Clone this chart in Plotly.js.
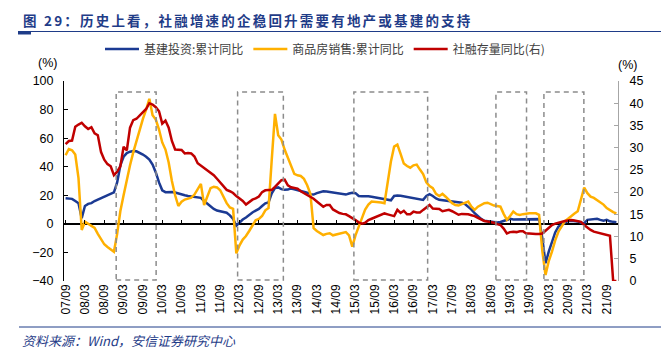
<!DOCTYPE html>
<html><head><meta charset="utf-8">
<script src="https://cdn.plot.ly/plotly-3.0.1.min.js"></script>
<style>html,body{margin:0;padding:0;background:#fff}</style>
</head><body><div id="chart" style="width:671px;height:354px"></div>
<script>
// ---- data ----
const startYear = 2007, startMonth = 9, monthCount = 172;   // 2007/09 .. 2021/12
const months = [];
for (let i = 0; i < monthCount; i++) {
  const t = startYear * 12 + (startMonth - 1) + i;
  const y = Math.floor(t / 12) % 100, m = t % 12 + 1;
  months.push(String(y).padStart(2, '0') + '/' + String(m).padStart(2, '0'));
}
const tickLabels = ['07/09','08/03','08/09','09/03','09/09','10/03','10/09','11/03','11/09','12/03','12/09',
  '13/03','13/09','14/03','14/09','15/03','15/09','16/03','16/09','17/03','17/09','18/03','18/09',
  '19/03','19/09','20/03','20/09','21/03','21/09'];

const seriesNames = ['基建投资:累计同比', '商品房销售:累计同比', '社融存量同比(右)'];

// 基建投资:累计同比 (%)
const infraYoY = [
  17.9, 17.9, 17.5, 16,
  14.5, 4, 12.5, 14, 14.5, 16, 17, 18.5, 19.5, 20.5, 21.2, 22,
  29, 41, 47, 49.5, 50.5, 51, 50.8, 49.8, 48.5, 47, 45, 41.5,
  36, 29, 23.5, 22.2, 22.4, 22.3, 22, 21.2, 20.7, 20, 19.5, 19.2,
  18.8, 18.5, 18.2, 16, 14, 12.5, 10.5, 9.3, 8.8, 8.4, 7.8, 6,
  3.5, -1.3, 1.2, 3, 4.5, 6.5, 8, 9.3, 10.5, 12.5, 14.4, 15,
  21.4, 25, 25.5, 24.3, 23.8, 24, 24.8, 24.2, 23.6, 23.2, 22.5, 21.8,
  20.8, 20.5, 21.5, 22.2, 22.8, 22.6, 22.2, 21.8, 21.3, 21.2, 20.6, 20.5,
  21.2, 21.8, 21.5, 19.5, 19.3, 19.5, 19.3, 19, 18.5, 18.2, 17.8, 17.4,
  16.8, 16.5, 19.5, 19.9, 19.7, 19.3, 18.8, 18.4, 18, 17.6, 17.2, 16.8,
  19.5, 20.8, 19.5, 17.8, 16.8, 16.5, 16.2, 16, 15.7, 15.5, 15.3, 14.8,
  13.8, 12.2, 10, 7.5, 5.5, 3.5, 2.2, 2, 1.5, 1.1, 1, 1.3,
  2, 2.8, 3.5, 3, 3, 3.5, 3.4, 3.4, 3.5, 3.5, 3.5, 3.3,
  -10, -27.6, -19.5, -12, -6, -2, -0.5, 0.5, 2, 2.2, 2, 1.7,
  0.8, 0.5, 2.8, 3, 3.2, 3.5, 2.8, 2.2, 2.8, 1.8, 1.4, 1.1
];

// 商品房销售:累计同比 (%)
const salesYoY = [
  48, 52.4, 51.5, 48.5,
  32, -4.3, 1.5, 0, -1, -2.8, -7, -11, -14.3, -16.2, -18, -19.5,
  -7, 9, 20, 31, 41, 50, 58, 66, 73.5, 80, 87.5, 76,
  73, 66, 57, 52, 43, 30, 20, 12.5, 15.5, 17, 17.5, 18.3,
  20.5, 24.5, 28, 13.2, 19.5, 25, 26, 25.5, 23.5, 19, 14.5, 11.5,
  10.5, -20.6, -15, -11, -8.5, -5, -1, 2.5, 3.5, 5.5, 9.5, 11,
  45, 77, 62, 59, 52, 46, 40, 35, 34, 33.5, 31.5, 27,
  21, -3, -5, -6.5, -7.8, -7, -6.6, -8, -7.5, -7.2, -6.6, -5.8,
  -8, -16, -8, -2.5, 4, 10, 13.5, 15.6, 15.5, 15.5, 15, 14.4,
  29, 43.6, 54.1, 55.5, 49, 42.2, 40.5, 39.3, 41, 41.5, 38, 34.8,
  29, 26.5, 25, 21, 19.5, 21, 19, 16.5, 14.5, 13.2, 12.8, 13.8,
  14.8, 15.6, 12, 9.8, 12, 13.5, 14.5, 14.8, 13.5, 12.8, 12.5, 12,
  7, 2.8, 5.5, 8.6, 6.8, 6.3, 6.8, 7.2, 7.4, 7.4, 7.4, 6.3,
  -19, -35.8, -26, -19.5, -11.5, -5.5, -2, 1.8, 3.6, 5.6, 7.2, 8.8,
  17, 25.4, 21.5, 19, 18.2, 16.5, 15, 13.5, 11, 9.5, 8.2, 7.3
];

// 社融存量同比 (%, right axis)
const tsfYoY = [
  30.8, 31.5, 31.6, 34.7,
  35.2, 35.6, 34.8, 34.2, 34.6, 33.2, 32.8, 29, 27.3, 26.3, 25.8, 23.8,
  24.6, 25.8, 30.2, 29.4, 34.5, 36.2, 36.5, 37.2, 37.9, 38.7, 40, 39.7,
  39.1, 38.2, 35.4, 36.1, 34.5, 31.5, 29.6, 29.5, 29.5, 28.7, 28.8, 28.7,
  28, 26.5, 26, 25.5, 25, 24.3, 23.8, 23, 22.2, 21.2, 20.5, 20.2,
  19.8, 19.1, 18.6, 18, 17.2, 17.8, 18.3, 18.6, 19, 20, 20.4, 20.5,
  20.5, 21.2, 22, 22.7, 22.8, 21.5, 21.1, 20.9, 20.8, 20.2, 19.8, 19.4,
  19, 18.5, 17.9, 17.3, 16.7, 17.1, 17.1, 16.1, 15.7, 15.3, 15.1, 15,
  14.6, 14.2, 13.7, 13.2, 12.9, 13.1, 13.7, 14, 14.3, 14.7, 15, 15.2,
  15, 14.8, 14.6, 16, 15.3, 15.8, 15, 15, 15.6, 15.4, 15.4, 16,
  16.5, 17.1, 16.3, 16.3, 16.2, 15.7, 15.8, 16, 15.7, 15.2, 14.9, 15.1,
  15.1, 15, 14.8, 14.6, 14.2, 13.9, 13.5, 13.4, 13.3, 13.1, 12.8, 12.6,
  11.8, 10.7, 11, 11.1, 11, 11.2, 11.2, 10.7, 10.7, 10.6, 10.6, 10.6,
  10.7, 11.3, 12, 12.6, 12.9, 13.1, 13.4, 13.5, 13.6, 13.7, 13.6, 13.4,
  13.3, 12.6, 12, 11.5, 11.1, 10.9, 10.7, 10.5, 10.4, 10.2, 0, 0
];

// highlighted periods (month-index spans) for the dashed boxes
const boxSpans = [[15.7, 28.1], [53.4, 67.6], [89.5, 112.4], [133.6, 143.1], [148.5, 160.9]];

// ---- layout helpers ----
const L = 64, R = 53, T = 81, B = 73;
const W = 671 - L - R, H = 354 - T - B;
const px = v => (v - L) / W;
const py = v => (T + H - v) / H;
const NAVY = '#1F3C88';
const FONT = 'Liberation Sans, Arial, Noto Sans CJK SC, sans-serif';
const CJK = 'Noto Sans CJK SC, Liberation Sans, sans-serif';

const traces = [
  {type: 'scatter', mode: 'lines', x: months, y: infraYoY, name: seriesNames[0],
   line: {color: '#1B3A93', width: 2.5}, xaxis: 'x', yaxis: 'y'},
  {type: 'scatter', mode: 'lines', x: months, y: salesYoY, name: seriesNames[1],
   line: {color: '#FFB000', width: 2.5}, xaxis: 'x', yaxis: 'y'},
  {type: 'scatter', mode: 'lines', x: months, y: tsfYoY, name: seriesNames[2],
   line: {color: '#C00000', width: 2.5}, xaxis: 'x', yaxis: 'y2'},
  {type: 'scatter', mode: 'lines', x: [], y: [], xaxis: 'x2', yaxis: 'y',
   showlegend: false, hoverinfo: 'skip'}
];

const shapes = boxSpans.map(s => ({
  type: 'rect', xref: 'x', yref: 'y', x0: s[0], x1: s[1], y0: -39.3, y1: 92.3,
  line: {color: '#8C8C8C', width: 1.5, dash: '5px,4px'}, fillcolor: 'rgba(0,0,0,0)'
}));
shapes.push(
  {type: 'line', xref: 'paper', yref: 'paper', x0: px(18), x1: px(661), y0: py(31.5), y1: py(31.5),
   line: {color: NAVY, width: 1}},
  {type: 'line', xref: 'paper', yref: 'paper', x0: px(18), x1: px(31), y0: py(33), y1: py(33),
   line: {color: NAVY, width: 3}},
  {type: 'line', xref: 'paper', yref: 'paper', x0: px(19), x1: px(661), y0: py(327), y1: py(327),
   line: {color: NAVY, width: 1}}
);

const annotations = [
  {xref: 'paper', yref: 'paper', x: px(21), y: py(20), xanchor: 'left', yanchor: 'middle', showarrow: false,
   text: '<span style="letter-spacing:2.2px"><b>图 29：历史上看，社融增速的企稳回升需要有地产或基建的支持</b></span>',
   font: {family: CJK, size: 13.5, color: NAVY}},
  {xref: 'paper', yref: 'paper', x: px(20), y: py(340), xanchor: 'left', yanchor: 'middle', showarrow: false,
   text: '<i>资料来源：Wind，安信证券研究中心</i>', font: {family: CJK, size: 13, color: NAVY}},
  {xref: 'paper', yref: 'paper', x: px(47), y: py(63), xanchor: 'center', yanchor: 'middle', showarrow: false,
   text: '(%)', font: {family: FONT, size: 12.5, color: '#000'}},
  {xref: 'paper', yref: 'paper', x: px(627), y: py(65), xanchor: 'center', yanchor: 'middle', showarrow: false,
   text: '(%)', font: {family: FONT, size: 12.5, color: '#000'}}
];

const layout = {
  width: 671, height: 354, margin: {l: L, r: R, t: T, b: B, pad: 0},
  paper_bgcolor: '#fff', plot_bgcolor: '#fff',
  font: {family: FONT, size: 12, color: '#000'},
  showlegend: true,
  legend: {orientation: 'h', x: px(100), xanchor: 'left', y: py(49), yanchor: 'middle',
           font: {family: CJK, size: 12, color: '#404040'}, bgcolor: 'rgba(0,0,0,0)', itemwidth: 34},
  xaxis: {type: 'category', range: [-0.5, monthCount - 0.5], tickmode: 'array', tickvals: tickLabels,
          ticktext: tickLabels, tickangle: -90, ticks: '', showline: false, showgrid: false,
          zeroline: false, tickfont: {family: FONT, size: 12, color: '#000'}, anchor: 'y'},
  xaxis2: {type: 'category', matches: 'x', overlaying: 'x', anchor: 'free', position: 40 / 140,
           tickmode: 'array', tickvals: tickLabels, ticks: 'inside', ticklen: 4, tickcolor: '#000',
           tickwidth: 1, showticklabels: false, showline: false, showgrid: false, zeroline: false},
  yaxis: {range: [-40, 100], tick0: 0, dtick: 20, showline: true, linecolor: '#000', linewidth: 1,
          ticks: 'inside', ticklen: 4, tickcolor: '#000', showgrid: false, zeroline: true,
          zerolinecolor: '#000', zerolinewidth: 1.5, tickfont: {family: FONT, size: 12.5, color: '#000'},
          ticklabelstandoff: 7},
  yaxis2: {overlaying: 'y', side: 'right', range: [0, 45], tick0: 0, dtick: 5, showline: true,
           linecolor: '#A6A6A6', linewidth: 1, ticks: 'inside', ticklen: 4, tickcolor: '#A6A6A6',
           showgrid: false, zeroline: false, tickfont: {family: FONT, size: 12.5, color: '#000'},
           ticklabelstandoff: 8},
  shapes: shapes,
  annotations: annotations
};

Plotly.newPlot('chart', traces, layout, {displayModeBar: false, staticPlot: true});
</script>
</body></html>
